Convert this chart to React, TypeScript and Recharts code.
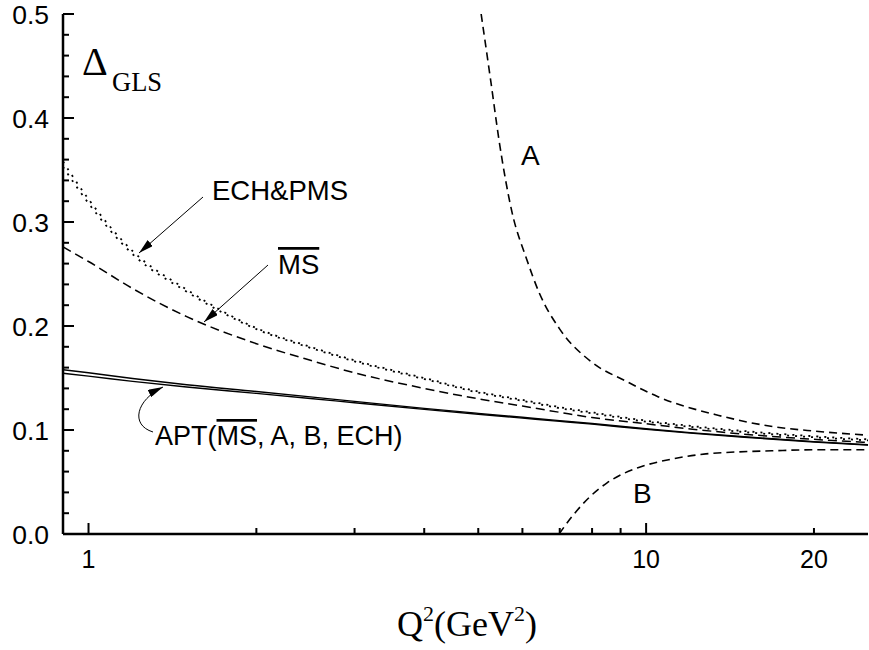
import React from 'react';
import { LineChart, Line, XAxis, YAxis, Customized } from 'recharts';

const W = 869;
const H = 650;
const MARGIN = { top: 14, right: 1, bottom: 0, left: 0 };
const Y_AXIS_W = 63;
const X_AXIS_H = 116;
const PLOT_LEFT = MARGIN.left + Y_AXIS_W;
const PLOT_RIGHT = W - MARGIN.right;
const PLOT_TOP = MARGIN.top;
const PLOT_BOTTOM = H - MARGIN.bottom - X_AXIS_H;
const SANS = 'Liberation Sans, Arial, sans-serif';
const SERIF = 'Liberation Serif, Times New Roman, serif';

// shared Q^2 grid for the smooth curves
const qGrid = [0.9, 1, 1.2, 1.5, 2, 2.5, 3, 4, 5, 6, 7, 8, 10, 12, 15, 20, 25];
const aptUpper = [0.158, 0.155, 0.1495, 0.1435, 0.137, 0.1318, 0.1275, 0.1208, 0.116, 0.1122, 0.109, 0.1062, 0.1012, 0.0975, 0.0935, 0.0888, 0.0858];
const aptLower = [0.1545, 0.1518, 0.1468, 0.1413, 0.1352, 0.1303, 0.1262, 0.1198, 0.1151, 0.1114, 0.1083, 0.1056, 0.1006, 0.097, 0.093, 0.0884, 0.0854];
const msBar = [0.276, 0.262, 0.236, 0.209, 0.183, 0.167, 0.155, 0.14, 0.13, 0.123, 0.117, 0.112, 0.106, 0.101, 0.096, 0.091, 0.088];
const ech = [0.358, 0.322, 0.272, 0.235, 0.198, 0.18, 0.167, 0.15, 0.137, 0.129, 0.122, 0.117, 0.109, 0.104, 0.099, 0.094, 0.091];
const pms = [0.353, 0.318, 0.269, 0.233, 0.197, 0.179, 0.166, 0.149, 0.136, 0.128, 0.121, 0.116, 0.108, 0.103, 0.098, 0.093, 0.09];

// curve A (diverges at low Q^2)
const aQ = [5.06, 5.27, 5.45, 5.75, 6.1, 6.43, 7.0, 8.0, 9.2, 10.5, 13.5, 17, 20, 25];
const aVal = [0.5, 0.434, 0.378, 0.309, 0.265, 0.232, 0.197, 0.165, 0.147, 0.132, 0.114, 0.103, 0.099, 0.095];

// curve B (starts at zero)
const bQ = [6.98, 7.37, 7.9, 8.5, 9.1, 9.7, 11.1, 12.8, 14.7, 16.8, 20, 25];
const bVal = [0, 0.017, 0.035, 0.049, 0.058, 0.064, 0.072, 0.077, 0.079, 0.08, 0.081, 0.081];

const xTicks = [1, 2, 3, 4, 5, 6, 7, 8, 9, 10, 20];
const xMajor = [1, 10];
const xLabels = [1, 10, 20];
const yTicks = [0, 0.02, 0.04, 0.06, 0.08, 0.1, 0.12, 0.14, 0.16, 0.18, 0.2, 0.22, 0.24, 0.26, 0.28, 0.3, 0.32, 0.34, 0.36, 0.38, 0.4, 0.42, 0.44, 0.46, 0.48, 0.5];

const zip = (xs: number[], ys: number[]) => xs.map((x, i) => ({ x, y: ys[i] }));

const isMajorY = (v: number) => Math.abs(v * 10 - Math.round(v * 10)) < 1e-6;

const tickX = (p: any) => (p.payload && typeof p.payload.coordinate === 'number' ? p.payload.coordinate : p.x);
const tickY = (p: any) => (p.payload && typeof p.payload.coordinate === 'number' ? p.payload.coordinate : p.y);

const BottomTick = (p: any) => {
  const x = tickX(p);
  const y = PLOT_BOTTOM;
  const v = p.payload.value;
  const len = xMajor.includes(v) ? 11 : 6;
  return (
    <g>
      <line x1={x} x2={x} y1={y} y2={y - len} stroke="#000" strokeWidth={2} />
      {xLabels.includes(v) && (
        <text x={x} y={y + 34} textAnchor="middle" fontSize={25} fontFamily={SANS} fill="#000">
          {v}
        </text>
      )}
    </g>
  );
};

const TopTick = (p: any) => {
  const x = tickX(p);
  const y = PLOT_TOP;
  const len = xMajor.includes(p.payload.value) ? 11 : 6;
  return <line x1={x} x2={x} y1={y} y2={y + len} stroke="#000" strokeWidth={2} />;
};

const LeftTick = (p: any) => {
  const x = PLOT_LEFT;
  const y = tickY(p);
  const v = p.payload.value;
  const major = isMajorY(v);
  return (
    <g>
      <line x1={x} x2={x + (major ? 11 : 6)} y1={y} y2={y} stroke="#000" strokeWidth={2} />
      {major && (
        <text x={x - 14} y={y + 9.5} textAnchor="end" fontSize={26.5} fontFamily={SANS} fill="#000">
          {v.toFixed(1)}
        </text>
      )}
    </g>
  );
};

const RightTick = (p: any) => {
  const x = PLOT_RIGHT;
  const y = tickY(p);
  const major = isMajorY(p.payload.value);
  return <line x1={x} x2={x - (major ? 11 : 6)} y1={y} y2={y} stroke="#000" strokeWidth={2} />;
};

const Annotations = () => (
  <g>
    <defs>
      <marker id="arrowHead" markerWidth={15} markerHeight={8} refX={15} refY={4} orient="auto" markerUnits="userSpaceOnUse">
        <path d="M0,0 L15,4 L0,8 z" fill="#000" />
      </marker>
    </defs>
    <text x={82} y={75} fontFamily={SERIF} fontSize={40} fill="#000">
      Δ
    </text>
    <text x={112} y={91} fontFamily={SERIF} fontSize={26.5} fill="#000">
      GLS
    </text>
    <text x={212} y={200} fontFamily={SANS} fontSize={27.5} fill="#000">
      ECH&amp;PMS
    </text>
    <line x1={203} y1={197} x2={139} y2={253} stroke="#000" strokeWidth={1} markerEnd="url(#arrowHead)" />
    <text x={278} y={274} fontFamily={SANS} fontSize={27.5} fill="#000">
      <tspan textDecoration="overline" style={{ textDecoration: 'overline' }}>MS</tspan>
    </text>
    <line x1={268} y1={265} x2={204} y2={322} stroke="#000" strokeWidth={1} markerEnd="url(#arrowHead)" />
    <text x={155} y={445} fontFamily={SANS} fontSize={27} fill="#000">
      APT(
      <tspan textDecoration="overline" style={{ textDecoration: 'overline' }}>MS</tspan>
      , A, B, ECH)
    </text>
    <path d="M153,432 C130,425 136,400 163,387" fill="none" stroke="#000" strokeWidth={1} markerEnd="url(#arrowHead)" />
    <text x={521} y={165} fontFamily={SANS} fontSize={28} fill="#000">
      A
    </text>
    <text x={633} y={503} fontFamily={SANS} fontSize={28} fill="#000">
      B
    </text>
    <text x={467} y={636} textAnchor="middle" fontFamily={SERIF} fontSize={36} fill="#000">
      Q<tspan fontSize={22} dy={-15}>2</tspan>
      <tspan dy={15}>(GeV</tspan>
      <tspan fontSize={22} dy={-15}>2</tspan>
      <tspan dy={15}>)</tspan>
    </text>
  </g>
);

export default function App() {
  const common = {
    xAxisId: 'b',
    yAxisId: 'l',
    dataKey: 'y',
    type: 'monotone' as const,
    dot: false,
    activeDot: false,
    stroke: '#000',
    isAnimationActive: false,
  };
  return (
    <div style={{ position: 'absolute', left: 0, top: 0, width: W, height: H, background: '#fff' }}>
      <LineChart width={W} height={H} margin={MARGIN}>
        <XAxis
          xAxisId="b"
          dataKey="x"
          type="number"
          scale="log"
          domain={[0.9, 25]}
          allowDataOverflow
          ticks={xTicks}
          interval={0}
          tick={BottomTick}
          tickLine={false}
          tickSize={0}
          tickMargin={0}
          height={X_AXIS_H}
          axisLine={{ stroke: '#000', strokeWidth: 2.5 }}
        />
        <XAxis
          xAxisId="t"
          orientation="top"
          dataKey="x"
          type="number"
          scale="log"
          domain={[0.9, 25]}
          allowDataOverflow
          ticks={xTicks}
          interval={0}
          tick={TopTick}
          tickLine={false}
          tickSize={0}
          tickMargin={0}
          height={0}
          axisLine={{ stroke: '#000', strokeWidth: 2.5 }}
        />
        <YAxis
          yAxisId="l"
          type="number"
          domain={[0, 0.5]}
          allowDataOverflow
          ticks={yTicks}
          interval={0}
          tick={LeftTick}
          tickLine={false}
          tickSize={0}
          tickMargin={0}
          width={Y_AXIS_W}
          axisLine={{ stroke: '#000', strokeWidth: 2.5 }}
        />
        <YAxis
          yAxisId="r"
          orientation="right"
          type="number"
          domain={[0, 0.5]}
          allowDataOverflow
          ticks={yTicks}
          interval={0}
          tick={RightTick}
          tickLine={false}
          tickSize={0}
          tickMargin={0}
          width={0}
          axisLine={{ stroke: '#000', strokeWidth: 2.5 }}
        />
        <Line {...common} data={zip(qGrid, aptUpper)} strokeWidth={1.4} />
        <Line {...common} data={zip(qGrid, aptLower)} strokeWidth={1.4} />
        <Line {...common} data={zip(qGrid, msBar)} strokeWidth={1.5} strokeDasharray="9 5" />
        <Line {...common} data={zip(qGrid, ech)} strokeWidth={1.8} strokeDasharray="2 6" />
        <Line {...common} data={zip(qGrid, pms)} strokeWidth={1.8} strokeDasharray="2 6" />
        <Line {...common} data={zip(aQ, aVal)} strokeWidth={1.6} strokeDasharray="8 5" />
        <Line {...common} data={zip(bQ, bVal)} strokeWidth={1.6} strokeDasharray="8 5" />
        <Customized component={Annotations} />
      </LineChart>
    </div>
  );
}
